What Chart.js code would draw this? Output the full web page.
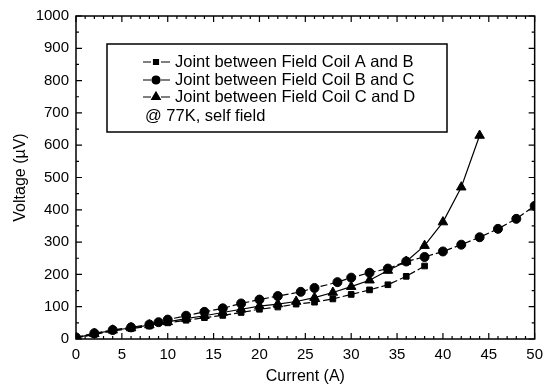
<!DOCTYPE html>
<html>
<head>
<meta charset="utf-8">
<script src="https://cdn.jsdelivr.net/npm/chart.js@4"></script>
<style>
  body { margin: 0; background: #fff; }
  canvas { display: block; }
</style>
</head>
<body>
<canvas id="iv-chart" width="550" height="391"></canvas>
<script>
const seriesNames = [
  'Joint between Field Coil A and B',
  'Joint between Field Coil B and C',
  'Joint between Field Coil C and D'
];
const noteText = '@ 77K, self field';

const currentAB = [0, 2, 4, 6, 8, 10, 12, 14, 16, 18, 20, 22, 24, 26, 28, 30, 32, 34, 36, 38];
const voltageAB = [3, 14, 25, 32, 40, 50, 58, 66, 73, 82, 92, 99, 108, 114, 124, 138, 152, 168, 194, 226];

const currentBC = [0, 2, 4, 6, 8, 9, 10, 12, 14, 16, 18, 20, 22, 24.5, 26, 28.5, 30, 32, 34, 36, 38, 40, 42, 44, 46, 48, 50];
const voltageBC = [5, 18, 28, 36, 45, 52, 60, 72, 84, 95, 110, 122, 133, 146, 158, 176, 190, 205, 218, 240, 254, 271, 292, 315, 341, 372, 412];

const currentCD = [0, 2, 4, 6, 8, 10, 12, 14, 16, 18, 20, 22, 24, 26, 28, 30, 32, 34, 36, 38, 40, 42, 44];
const voltageCD = [4, 16, 27, 34, 43, 53, 63, 72, 82, 92, 102, 108, 116, 128, 144, 162, 182, 212, 240, 289, 362, 470, 630];

const xTicks = [0, 5, 10, 15, 20, 25, 30, 35, 40, 45, 50];
const yTicks = [0, 100, 200, 300, 400, 500, 600, 700, 800, 900, 1000];

const FONT = 'Arial, "Liberation Sans", sans-serif';

function pairs(xs, ys) {
  return xs.map((x, i) => ({ x: x, y: ys[i] }));
}

const markerStyles = [
  { pointStyle: 'rect', radius: 4, dash: [7, 3] },
  { pointStyle: 'circle', radius: 4.5, dash: [7, 3] },
  { pointStyle: 'triangle', radius: 5.5, dash: [] }
];

// frame with inward ticks on all four sides
const frameTicks = {
  id: 'frameTicks',
  afterDatasetsDraw(chart) {
    const ctx = chart.ctx;
    const a = chart.chartArea;
    const xs = chart.scales.x;
    const ys = chart.scales.y;
    ctx.save();
    ctx.strokeStyle = '#000';
    ctx.lineWidth = 1.5;
    ctx.strokeRect(a.left, a.top, a.right - a.left, a.bottom - a.top);
    ctx.lineWidth = 1.2;
    ctx.beginPath();
    for (let v = 0; v <= 50; v += 1) {
      const len = v % 5 === 0 ? 6 : 3;
      const px = xs.getPixelForValue(v);
      ctx.moveTo(px, a.bottom); ctx.lineTo(px, a.bottom - len);
      ctx.moveTo(px, a.top); ctx.lineTo(px, a.top + len);
    }
    for (let v = 0; v <= 1000; v += 50) {
      const len = v % 100 === 0 ? 6 : 3;
      const py = ys.getPixelForValue(v);
      ctx.moveTo(a.left, py); ctx.lineTo(a.left + len, py);
      ctx.moveTo(a.right, py); ctx.lineTo(a.right - len, py);
    }
    ctx.stroke();
    ctx.restore();
  }
};

// boxed legend inside the plot, drawn like the original
const boxLegend = {
  id: 'boxLegend',
  afterDraw(chart) {
    const ctx = chart.ctx;
    const box = { left: 107, top: 44, right: 447, bottom: 132 };
    ctx.save();
    ctx.fillStyle = '#fff';
    ctx.fillRect(box.left, box.top, box.right - box.left, box.bottom - box.top);
    ctx.strokeStyle = '#000';
    ctx.lineWidth = 1.5;
    ctx.strokeRect(box.left, box.top, box.right - box.left, box.bottom - box.top);
    ctx.font = '16.5px ' + FONT;
    ctx.fillStyle = '#000';
    ctx.textBaseline = 'middle';
    const rowY = [62, 80, 97];
    seriesNames.forEach((name, i) => {
      const y = rowY[i];
      const m = markerStyles[i];
      ctx.lineWidth = 1.2;
      ctx.beginPath();
      ctx.moveTo(143, y); ctx.lineTo(151, y);
      ctx.moveTo(161, y); ctx.lineTo(170, y);
      ctx.stroke();
      Chart.helpers.drawPoint(ctx, { pointStyle: m.pointStyle, radius: m.radius - 0.5, rotation: 0, borderWidth: 1 }, 156, y);
      ctx.fill();
      ctx.fillText(name, 175, y);
    });
    ctx.fillText(noteText, 145, 116);
    ctx.restore();
  }
};

const chart = new Chart(document.getElementById('iv-chart'), {
  type: 'line',
  data: {
    datasets: [
      { label: seriesNames[0], data: pairs(currentAB, voltageAB) },
      { label: seriesNames[1], data: pairs(currentBC, voltageBC) },
      { label: seriesNames[2], data: pairs(currentCD, voltageCD) }
    ].map((ds, i) => Object.assign(ds, {
      borderColor: '#000',
      backgroundColor: '#000',
      borderWidth: 1.2,
      borderDash: markerStyles[i].dash,
      pointStyle: markerStyles[i].pointStyle,
      pointRadius: markerStyles[i].radius,
      pointBorderWidth: 1,
      tension: 0,
      fill: false
    }))
  },
  options: {
    responsive: false,
    animation: false,
    layout: { padding: { left: 0, right: 9, top: 14, bottom: 0 } },
    plugins: {
      legend: { display: false },
      tooltip: { enabled: false }
    },
    scales: {
      x: {
        type: 'linear',
        min: 0,
        max: 50,
        afterBuildTicks: scale => { scale.ticks = xTicks.map(v => ({ value: v })); },
        afterFit: scale => { scale.height = 52; },
        grid: { display: false, drawTicks: false },
        border: { display: false },
        ticks: { color: '#000', padding: 7, maxRotation: 0, callback: v => String(v), font: { family: FONT, size: 15 } },
        title: {
          display: true,
          text: 'Current (A)',
          color: '#000',
          font: { family: FONT, size: 16 },
          padding: { top: 0, bottom: 5 }
        }
      },
      y: {
        type: 'linear',
        min: 0,
        max: 1000,
        afterBuildTicks: scale => { scale.ticks = yTicks.map(v => ({ value: v })); },
        afterFit: scale => { scale.width = 76; },
        grid: { display: false, drawTicks: false },
        border: { display: false },
        ticks: { color: '#000', padding: 7, callback: v => String(v), font: { family: FONT, size: 15 } },
        title: {
          display: true,
          text: 'Voltage (µV)',
          color: '#000',
          font: { family: FONT, size: 16 },
          padding: { top: 11, bottom: 0 }
        }
      }
    }
  },
  plugins: [frameTicks, boxLegend]
});
</script>
</body>
</html>
